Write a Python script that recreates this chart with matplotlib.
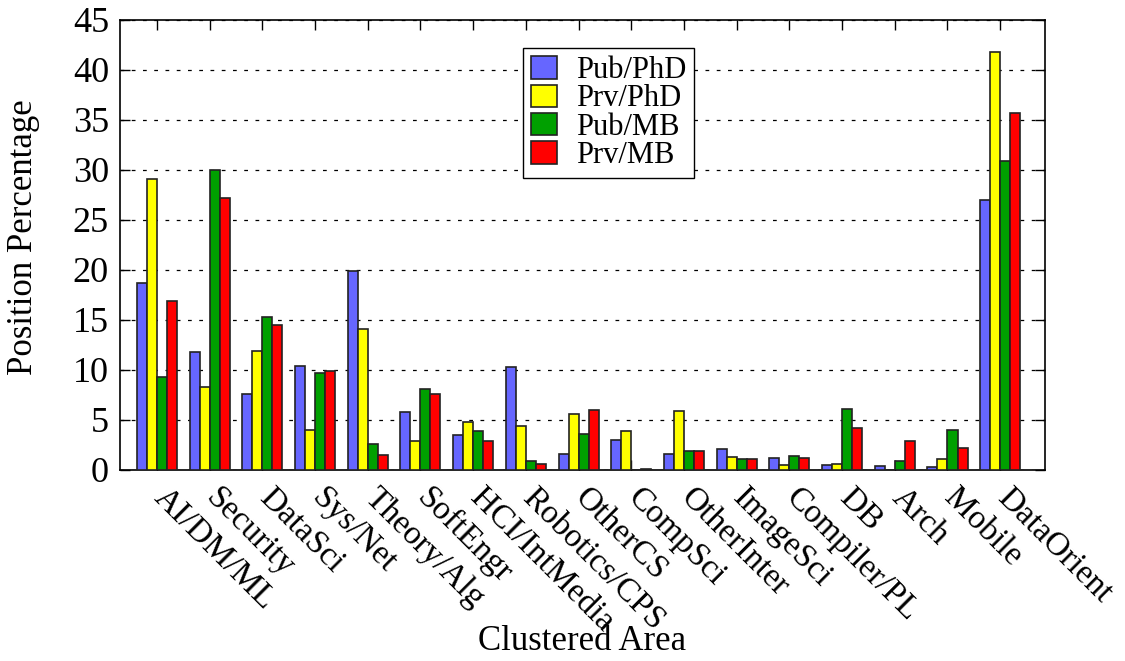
### Clustered bar chart: position percentage by area ###
import numpy as np
import matplotlib
matplotlib.use('Agg')
import matplotlib.pyplot as plt

### DATA ###
areas = ['AI/DM/ML', 'Security', 'DataSci', 'Sys/Net', 'Theory/Alg', 'SoftEngr',
         'HCI/IntMedia', 'Robotics/CPS', 'OtherCS', 'CompSci', 'OtherInter',
         'ImageSci', 'Compiler/PL', 'DB', 'Arch', 'Mobile', 'DataOrient']
pub_phd = [18.7, 11.8, 7.6, 10.4, 19.9, 5.8, 3.5, 10.3, 1.6, 3.0, 1.6, 2.1, 1.2, 0.5, 0.4, 0.3, 27.0]
prv_phd = [29.1, 8.3, 11.9, 4.0, 14.1, 2.9, 4.8, 4.4, 5.6, 3.9, 5.9, 1.3, 0.5, 0.6, 0.0, 1.1, 41.8]
pub_mb = [9.3, 30.0, 15.3, 9.7, 2.6, 8.1, 3.9, 0.9, 3.6, 0.0, 1.9, 1.1, 1.4, 6.1, 0.9, 4.0, 30.9]
prv_mb = [16.9, 27.2, 14.5, 9.9, 1.5, 7.6, 2.9, 0.6, 6.0, 0.1, 1.9, 1.1, 1.2, 4.2, 2.9, 2.2, 35.7]
series = [('Pub/PhD', pub_phd, '#6666ff'),
          ('Prv/PhD', prv_phd, '#ffff00'),
          ('Pub/MB', pub_mb, '#00a000'),
          ('Prv/MB', prv_mb, '#ff0000')]

### STYLE ###
plt.rcParams['font.family'] = ['Liberation Serif', 'DejaVu Serif']
plt.rcParams['font.size'] = 24

fig = plt.figure(figsize=(11.25, 6.61), dpi=100)
ax = fig.add_axes([120 / 1125, 1 - 470 / 661, 925 / 1125, 450 / 661])

x = np.arange(len(areas))
w = 0.19
for i, (name, vals, col) in enumerate(series):
    ax.bar(x + (i - 1.5) * w, vals, w, color=col, edgecolor='#222222',
           linewidth=1.2, label=name, zorder=3)

ax.set_xlim(-0.7, len(areas) - 0.15)
ax.set_ylim(0, 45)
ax.set_yticks(np.arange(0, 46, 5))

### TICKS AT GROUP CENTRES, LABELS SLIGHTLY TO THE RIGHT (MINOR TICKS) ###
ax.set_xticks(x)
ax.set_xticklabels([])
ax.set_xticks(x + 0.23, minor=True)
ax.set_xticklabels(areas, minor=True, rotation=-45, ha='left', va='top',
                   rotation_mode='anchor', fontsize=24)
ax.tick_params(axis='x', which='minor', length=0, pad=9, bottom=True, top=False)
ax.tick_params(which='major', direction='in', length=7, top=True, right=True, width=1)
ax.tick_params(axis='y', labelsize=26, pad=8)
ax.grid(axis='y', color='black', linestyle=(0, (3, 6)), linewidth=0.9, zorder=0)
for s in ax.spines.values():
    s.set_linewidth(1.2)

ax.set_ylabel('Position Percentage', fontsize=25)
ax.yaxis.set_label_coords(-0.087, (470 - 237) / 450)
ax.set_xlabel('Clustered Area', fontsize=25)
ax.xaxis.set_label_coords(0.5, -0.345)

leg = ax.legend(loc='upper left', bbox_to_anchor=(403 / 925, 0.937), fancybox=False,
                edgecolor='black', framealpha=1, handlelength=0.85, handleheight=0.75,
                borderpad=0.25, labelspacing=-0.02, handletextpad=0.65,
                borderaxespad=0, fontsize=22)
leg.get_frame().set_linewidth(1.0)

fig.savefig('out.png', dpi=100)
